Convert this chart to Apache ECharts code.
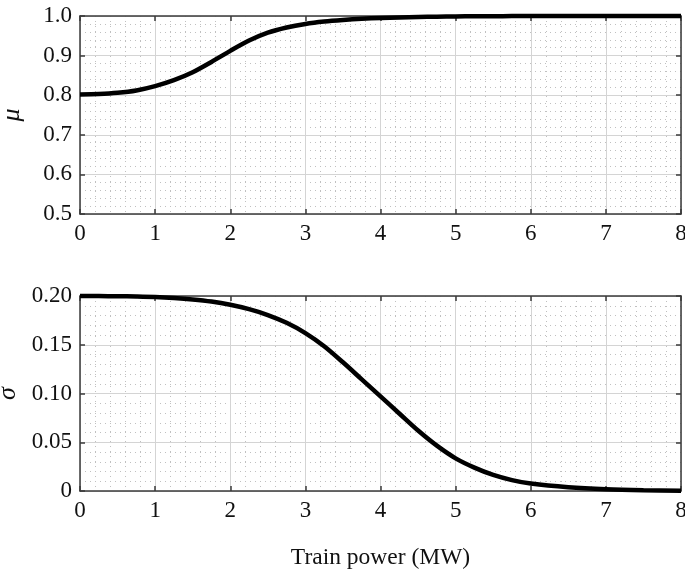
<!DOCTYPE html>
<html>
<head>
<meta charset="utf-8">
<script src="https://cdn.jsdelivr.net/npm/echarts@6/dist/echarts.min.js"></script>
<style>
  html, body { margin: 0; padding: 0; background: #fff; }
  #chart { width: 685px; height: 574px; }
</style>
</head>
<body>
<div id="chart"></div>
<script>
// train power (MW)
var xValues = [0, 0.25, 0.5, 0.75, 1, 1.25, 1.5, 1.75, 2, 2.25, 2.5, 2.75, 3, 3.25, 3.5, 3.75, 4, 4.25, 4.5, 4.75, 5, 5.25, 5.5, 5.75, 6, 6.5, 7, 7.5, 8];
// mean
var muValues = [0.802, 0.803, 0.806, 0.812, 0.823, 0.838, 0.858, 0.884, 0.912, 0.938, 0.958, 0.971, 0.980, 0.986, 0.990, 0.993, 0.995, 0.9965, 0.9975, 0.9983, 0.9989, 0.9992, 0.9995, 0.9997, 0.9998, 1.0, 1.0, 1.0, 1.0];
// standard deviation
var sigmaValues = [0.2000, 0.1999, 0.1998, 0.1995, 0.1990, 0.1980, 0.1965, 0.1943, 0.1910, 0.1865, 0.1805, 0.1725, 0.1620, 0.1485, 0.1320, 0.1145, 0.0970, 0.0795, 0.0620, 0.0465, 0.0335, 0.0240, 0.0165, 0.0112, 0.0076, 0.0038, 0.0017, 0.0007, 0.0003];

var muTicks = [0.5, 0.6, 0.7, 0.8, 0.9, 1.0];
var sigmaTicks = [0, 0.05, 0.10, 0.15, 0.20];

var chart = echarts.init(document.getElementById('chart'));

var font = 'Liberation Serif';
var axisCol = '#3a3a3a';

function pairs(ys) {
    return xValues.map(function (x, i) { return [x, ys[i]]; });
}

// main axes (bottom / left): labels, grid
function xMain(gi, name) {
    return {
        type: 'value', gridIndex: gi, min: 0, max: 8, interval: 1, position: 'bottom',
        name: name || '', nameLocation: 'middle', nameGap: 55,
        nameTextStyle: { fontFamily: font, fontSize: 23.5, color: '#111' },
        axisLine: { show: true, onZero: false, lineStyle: { color: axisCol, width: 1.5 } },
        axisTick: { show: true, inside: true, length: 5, lineStyle: { color: axisCol, width: 1.5 } },
        axisLabel: { fontFamily: font, fontSize: 23, color: '#111', margin: 8 },
        splitLine: { show: true, lineStyle: { color: '#d4d4d4', width: 1 } },
        minorTick: { show: false, splitNumber: 5 },
        minorSplitLine: { show: true, lineStyle: { color: '#c0c0c0', width: 1, type: [1, 4] } }
    };
}
// mirrored axes (top / right): box + inward ticks only
function xMirror(gi) {
    return {
        type: 'value', gridIndex: gi, min: 0, max: 8, interval: 1, position: 'top',
        axisLine: { show: true, onZero: false, lineStyle: { color: axisCol, width: 1.5 } },
        axisTick: { show: true, inside: true, length: 5, lineStyle: { color: axisCol, width: 1.5 } },
        axisLabel: { show: false }, splitLine: { show: false }
    };
}
function yMain(gi, min, max, step, name, fmt) {
    return {
        type: 'value', gridIndex: gi, min: min, max: max, interval: step, position: 'left',
        name: name, nameLocation: 'middle', nameGap: 55, nameRotate: 90,
        nameTextStyle: { fontFamily: font, fontSize: 26, fontStyle: 'italic', color: '#111' },
        axisLine: { show: true, onZero: false, lineStyle: { color: axisCol, width: 1.5 } },
        axisTick: { show: true, inside: true, length: 5, lineStyle: { color: axisCol, width: 1.5 } },
        axisLabel: { fontFamily: font, fontSize: 23, color: '#111', margin: 8, formatter: fmt },
        splitLine: { show: true, lineStyle: { color: '#d4d4d4', width: 1 } },
        minorTick: { show: false, splitNumber: 5 },
        minorSplitLine: { show: true, lineStyle: { color: '#c0c0c0', width: 1, type: [1, 4] } }
    };
}
function yMirror(gi, min, max, step) {
    return {
        type: 'value', gridIndex: gi, min: min, max: max, interval: step, position: 'right',
        axisLine: { show: true, onZero: false, lineStyle: { color: axisCol, width: 1.5 } },
        axisTick: { show: true, inside: true, length: 5, lineStyle: { color: axisCol, width: 1.5 } },
        axisLabel: { show: false }, splitLine: { show: false }
    };
}

var option = {
    animation: false,
    backgroundColor: '#fff',
    grid: [
        { left: 80, top: 16, width: 601, height: 198, outerBoundsMode: 'none' },
        { left: 80, top: 296, width: 601, height: 195, outerBoundsMode: 'none' }
    ],
    xAxis: [
        xMain(0), xMirror(0),
        xMain(1, 'Train power (MW)'), xMirror(1)
    ],
    yAxis: [
        yMain(0, muTicks[0], muTicks[muTicks.length - 1], 0.1, 'μ', function (v) { return v.toFixed(1); }),
        yMirror(0, muTicks[0], muTicks[muTicks.length - 1], 0.1),
        yMain(1, sigmaTicks[0], sigmaTicks[sigmaTicks.length - 1], 0.05, 'σ', function (v) { return v === 0 ? '0' : v.toFixed(2); }),
        yMirror(1, sigmaTicks[0], sigmaTicks[sigmaTicks.length - 1], 0.05)
    ],
    series: [
        {
            type: 'line', xAxisIndex: 0, yAxisIndex: 0, data: pairs(muValues),
            smooth: 0.3, showSymbol: false, clip: false,
            lineStyle: { color: '#000', width: 4.5 }
        },
        {
            type: 'line', xAxisIndex: 2, yAxisIndex: 2, data: pairs(sigmaValues),
            smooth: 0.3, showSymbol: false, clip: false,
            lineStyle: { color: '#000', width: 4.5 }
        }
    ]
};

chart.setOption(option);
</script>
</body>
</html>
